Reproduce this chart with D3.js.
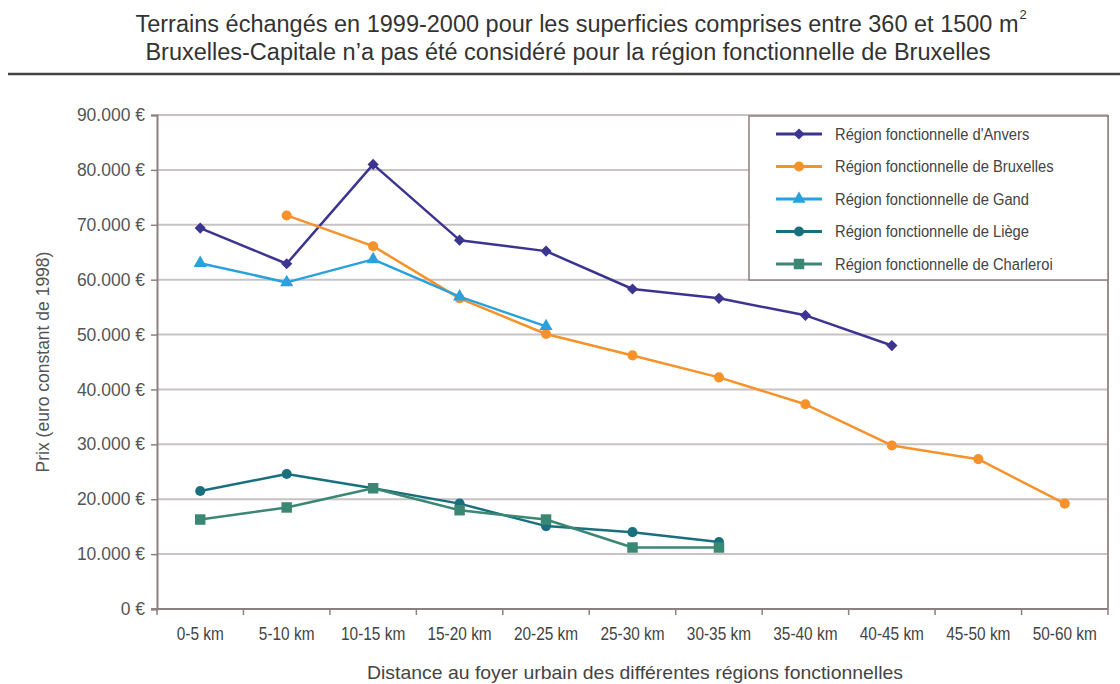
<!DOCTYPE html>
<html>
<head>
<meta charset="utf-8">
<script src="https://cdn.jsdelivr.net/npm/d3@7"></script>
<style>
  body { margin: 0; background: #fff; }
  svg { font-family: "Liberation Sans", Arial, sans-serif; }
</style>
</head>
<body>
<svg id="chart"></svg>
<script>
// Data
const categories = ['0-5 km', '5-10 km', '10-15 km', '15-20 km', '20-25 km', '25-30 km',
  '30-35 km', '35-40 km', '40-45 km', '45-50 km', '50-60 km'];

const anvers = [69400, 62900, 81000, 67200, 65200, 58300, 56600, 53500, 48000, null, null];
const bruxelles = [null, 71700, 66100, 56600, 50100, 46200, 42200, 37300, 29800, 27300, 19200];
const gand = [63000, 59500, 63700, 56900, 51500, null, null, null, null, null, null];
const liege = [21500, 24600, 22000, 19200, 15100, 14000, 12200, null, null, null, null];
const charleroi = [16300, 18500, 22000, 18000, 16300, 11200, 11200, null, null, null, null];

const yTicks = [0, 10000, 20000, 30000, 40000, 50000, 60000, 70000, 80000, 90000];

const series = [
  { name: "Région fonctionnelle d'Anvers", values: anvers, color: '#3b3591', symbol: d3.symbolDiamond2, size: 80 },
  { name: 'Région fonctionnelle de Bruxelles', values: bruxelles, color: '#f7922b', symbol: d3.symbolCircle, size: 80 },
  { name: 'Région fonctionnelle de Gand', values: gand, color: '#29a1de', symbol: d3.symbolTriangle, size: 75 },
  { name: 'Région fonctionnelle de Liège', values: liege, color: '#18707e', symbol: d3.symbolCircle, size: 80 },
  { name: 'Région fonctionnelle de Charleroi', values: charleroi, color: '#3a8774', symbol: d3.symbolSquare, size: 110 }
];

const width = 1120, height = 684;
const marginLeft = 157, marginRight = 12, marginTop = 115, marginBottom = 75;

const svg = d3.select('#chart')
  .attr('width', width)
  .attr('height', height)
  .attr('viewBox', [0, 0, width, height]);

// squeeze text horizontally, the original uses a narrow face
const condense = (sel, f) => sel.each(function () {
  const len = this.getComputedTextLength();
  d3.select(this).attr('textLength', len * f).attr('lengthAdjust', 'spacingAndGlyphs');
});

// Title
const t1 = svg.append('text')
  .attr('x', 577).attr('y', 32)
  .attr('text-anchor', 'middle')
  .attr('font-size', 23.5).attr('fill', '#333')
  .text('Terrains échangés en 1999-2000 pour les superficies comprises entre 360 et 1500 m');
const b1 = t1.node().getBBox();
svg.append('text')
  .attr('x', b1.x + b1.width + 1).attr('y', 19)
  .attr('font-size', 13).attr('fill', '#333')
  .text('2');

svg.append('text')
  .attr('x', 568).attr('y', 60)
  .attr('text-anchor', 'middle')
  .attr('font-size', 23.5).attr('fill', '#333')
  .text('Bruxelles-Capitale n\u2019a pas été considéré pour la région fonctionnelle de Bruxelles');

svg.append('line')
  .attr('x1', 8).attr('x2', width).attr('y1', 74).attr('y2', 74)
  .attr('stroke', '#444').attr('stroke-width', 2.5);

// Scales
const x = d3.scaleBand(categories, [marginLeft, width - marginRight]);
const y = d3.scaleLinear([0, 90000], [height - marginBottom, marginTop]);

// Grid
svg.append('g')
  .selectAll('line')
  .data(yTicks.slice(1))
  .join('line')
  .attr('x1', marginLeft).attr('x2', width - marginRight)
  .attr('y1', d => y(d)).attr('y2', d => y(d))
  .attr('stroke', '#c9c2c2').attr('stroke-width', 2);

// Plot frame right side
svg.append('line')
  .attr('x1', width - marginRight).attr('x2', width - marginRight)
  .attr('y1', marginTop).attr('y2', height - marginBottom)
  .attr('stroke', '#9a9090').attr('stroke-width', 2);

// Y axis
const fmt = d => d3.format(',')(d).replace(/,/g, '.') + ' \u20ac';
svg.append('g')
  .attr('transform', `translate(${marginLeft},0)`)
  .call(d3.axisLeft(y).tickValues(yTicks).tickFormat(fmt).tickSize(6).tickPadding(6))
  .call(g => g.select('.domain').attr('stroke', '#8c8080').attr('stroke-width', 2))
  .call(g => g.selectAll('.tick line').attr('stroke', '#8c8080').attr('stroke-width', 1.5))
  .call(g => g.selectAll('.tick text')
    .attr('font-family', '"Liberation Sans", Arial, sans-serif')
    .attr('font-size', 17.5).attr('fill', '#555'));

svg.append('text')
  .attr('transform', `translate(49,${(marginTop + height - marginBottom) / 2}) rotate(-90)`)
  .attr('text-anchor', 'middle')
  .attr('font-size', 17.5).attr('fill', '#555')
  .text('Prix (euro constant de 1998)');

// X axis
const xAxisG = svg.append('g')
  .attr('transform', `translate(0,${height - marginBottom})`);
xAxisG.append('line')
  .attr('x1', marginLeft - 6).attr('x2', width - marginRight)
  .attr('stroke', '#8c8080').attr('stroke-width', 2);
xAxisG.selectAll('.tick')
  .data(d3.range(categories.length + 1))
  .join('line')
  .attr('x1', i => marginLeft + i * x.step()).attr('x2', i => marginLeft + i * x.step())
  .attr('y1', 0).attr('y2', 6)
  .attr('stroke', '#8c8080').attr('stroke-width', 1.5);
xAxisG.selectAll('text')
  .data(categories)
  .join('text')
  .attr('x', d => x(d) + x.bandwidth() / 2)
  .attr('y', 31)
  .attr('text-anchor', 'middle')
  .attr('font-size', 17.5).attr('fill', '#444')
  .text(d => d)
  .call(condense, 0.88);

svg.append('text')
  .attr('x', 635).attr('y', 679)
  .attr('text-anchor', 'middle')
  .attr('font-size', 19).attr('fill', '#444')
  .text('Distance au foyer urbain des différentes régions fonctionnelles')
  .call(function (sel) { sel.call(condense, 536 / sel.node().getComputedTextLength()); });

// Lines and markers
const cx = i => x(categories[i]) + x.bandwidth() / 2;
const line = d3.line()
  .defined(d => d != null)
  .x((d, i) => cx(i))
  .y(d => y(d));

const sg = svg.append('g')
  .selectAll('g')
  .data(series)
  .join('g');

sg.append('path')
  .attr('fill', 'none')
  .attr('stroke', s => s.color)
  .attr('stroke-width', 2.5)
  .attr('stroke-linejoin', 'round')
  .attr('d', s => line(s.values));

sg.each(function (s) {
  d3.select(this).selectAll('path.pt')
    .data(s.values.map((v, i) => [v, i]).filter(d => d[0] != null))
    .join('path')
    .attr('class', 'pt')
    .attr('fill', s.color)
    .attr('transform', d => `translate(${cx(d[1])},${y(d[0])})`)
    .attr('d', d3.symbol(s.symbol, s.size));
});

// Legend
const legend = svg.append('g');
legend.append('rect')
  .attr('x', 749).attr('y', 116)
  .attr('width', width - marginRight - 749).attr('height', 164)
  .attr('fill', '#fff').attr('stroke', '#8c8080').attr('stroke-width', 1.5);

const li = legend.selectAll('g')
  .data(series)
  .join('g')
  .attr('transform', (d, i) => `translate(0,${134 + i * 32.5})`);
li.append('line')
  .attr('x1', 776).attr('x2', 822)
  .attr('stroke', d => d.color).attr('stroke-width', 3);
li.append('path')
  .attr('transform', 'translate(799,0)')
  .attr('fill', d => d.color)
  .attr('d', d => d3.symbol(d.symbol, d.size)());
li.append('text')
  .attr('x', 835).attr('y', 5.5)
  .attr('font-size', 16).attr('fill', '#444')
  .text(d => d.name)
  .call(condense, 0.92);
</script>
</body>
</html>
